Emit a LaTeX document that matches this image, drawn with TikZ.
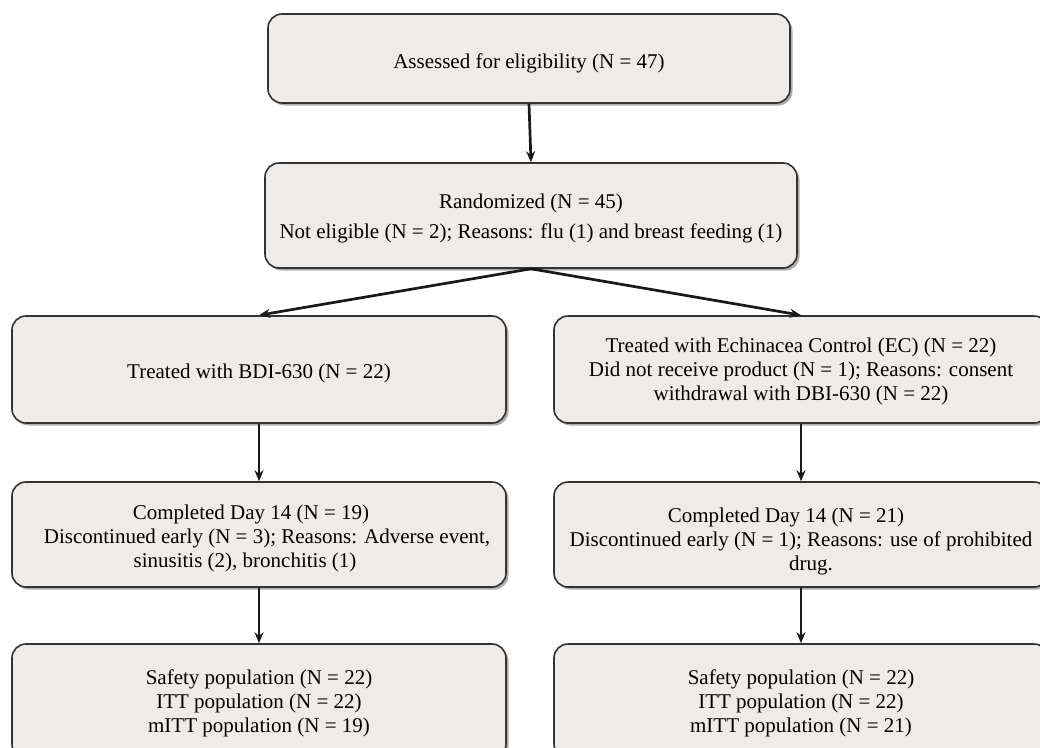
\documentclass[tikz,border=0pt]{standalone}
\usepackage{fontspec}
\setmainfont{Liberation Serif}
\usetikzlibrary{shadows,arrows.meta}
\begin{document}
\begin{tikzpicture}[x=1pt,y=-1pt,
  box/.style={draw=black!80, line width=1.6pt, rounded corners=14pt,
    fill=boxfill, inner sep=0pt,
    drop shadow={shadow xshift=2.5pt, shadow yshift=-2.5pt, opacity=0.45, fill=black!70}},
  txt/.style={align=center, inner sep=0pt, font=\fontsize{21}{24}\selectfont},
  arr/.style={line width=2.7pt, draw=black!90, -{Stealth[length=11pt,width=9pt]}}]
\definecolor{boxfill}{HTML}{EEEBE9}
\useasboundingbox (0,0) rectangle (1040,747);
\clip (0,0) rectangle (1040,747);
% boxes
\node[box, minimum width=522pt, minimum height=89pt] (top) at (529,58.5) {};
\node[box, minimum width=532pt, minimum height=105pt] (rand) at (531,215.5) {};
\node[box, minimum width=494pt, minimum height=107pt] (tL) at (259,369.5) {};
\node[box, minimum width=494pt, minimum height=107pt] (tR) at (801,369.5) {};
\node[box, minimum width=494pt, minimum height=105pt] (mL) at (259,534.5) {};
\node[box, minimum width=494pt, minimum height=105pt] (mR) at (801,534.5) {};
\node[box, minimum width=494pt, minimum height=114pt] (bL) at (259,701) {};
\node[box, minimum width=494pt, minimum height=114pt] (bR) at (801,701) {};
% texts
\node[txt] (topT) at ([yshift=-5pt]top.center) {Assessed for eligibility (N = 47)};
\node[txt, font=\fontsize{21}{30}\selectfont] (randT) at ([yshift=-3pt]rand.center)
  {Randomized (N = 45)\\ Not eligible (N = 2); Reasons: flu (1) and breast feeding (1)};
\node[txt] (tLT) at ([yshift=-4pt]tL.center) {Treated with BDI-630 (N = 22)};
\node[txt] (tRT) at ([yshift=-2pt]tR.center)
  {Treated with Echinacea Control (EC) (N = 22)\\ Did not receive product (N = 1); Reasons: consent\\ withdrawal with DBI-630 (N = 22)};
\node[txt] (mLT) at ([yshift=-4pt]mL.center)
  {Completed Day 14 (N = 19)\hspace*{16pt}\\ \hspace*{16pt}Discontinued early (N = 3); Reasons: Adverse event,\\ sinusitis (2), bronchitis (1)\hspace*{28pt}};
\node[txt] (mRT) at ([yshift=-7pt]mR.center)
  {Completed Day 14 (N = 21)\hspace*{30pt}\\ Discontinued early (N = 1); Reasons: use of prohibited\\ \hspace*{20pt}drug.};
\node[txt] (bLT) at ([yshift=-2pt]bL.center)
  {Safety population (N = 22)\\ ITT population (N = 22)\\ mITT population (N = 19)};
\node[txt] (bRT) at ([yshift=-2pt]bR.center)
  {Safety population (N = 22)\\ ITT population (N = 22)\\ mITT population (N = 21)};
% connectors
\draw[arr] (top.south) -- (rand.north);
\draw[arr] (rand.south) -- (tL.north);
\draw[arr] (rand.south) -- (tR.north);
\draw[arr] (tL.south) -- (mL.north);
\draw[arr] (tR.south) -- (mR.north);
\draw[arr] (mL.south) -- (bL.north);
\draw[arr] (mR.south) -- (bR.north);
\end{tikzpicture}
\end{document}
